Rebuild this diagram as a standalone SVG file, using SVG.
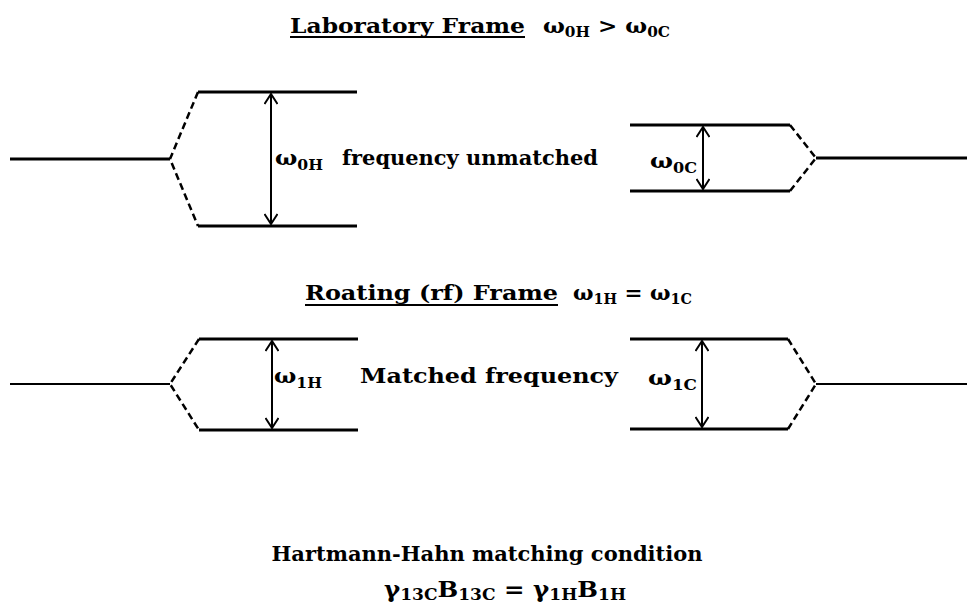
<svg xmlns="http://www.w3.org/2000/svg" width="967" height="614" viewBox="0 0 967 614">
<defs>
<style>
.t{font-family:"DejaVu Serif","Liberation Serif",serif;font-weight:bold;fill:#000;font-size:21px}
.s{font-size:14px}
.b{font-size:23px}
.bs{font-size:16px}
.lv{stroke:#000;stroke-width:3;fill:none}
.ln{stroke:#000;stroke-width:3;fill:none}
.ln2{stroke:#000;stroke-width:2;fill:none}
.ds{stroke:#000;stroke-width:2.5;fill:none;stroke-dasharray:7 4}
.ar{stroke:#000;stroke-width:2;fill:none;marker-start:url(#ah);marker-end:url(#ah)}
</style>
<marker id="ah" viewBox="0 0 12 14" refX="11" refY="7" markerWidth="12" markerHeight="14" markerUnits="userSpaceOnUse" orient="auto-start-reverse">
<path d="M1,0.5 L11,7 L1,13.5" fill="none" stroke="#000" stroke-width="2"/>
</marker>
</defs>
<rect width="967" height="614" fill="#fff"/>

<g id="title-lab">
<text class="t" x="290" y="33" textLength="235" lengthAdjust="spacingAndGlyphs">Laboratory Frame</text>
<line x1="290" y1="37" x2="525" y2="37" stroke="#000" stroke-width="2"/>
<text class="t" x="543" y="33" textLength="127" lengthAdjust="spacingAndGlyphs">ω<tspan class="s" dy="4">0H</tspan><tspan dy="-4"> &gt; </tspan>ω<tspan class="s" dy="4">0C</tspan></text>
</g>

<g id="title-rot">
<text class="t" x="305" y="300" textLength="253" lengthAdjust="spacingAndGlyphs">Roating (rf) Frame</text>
<line x1="305" y1="305" x2="558" y2="305" stroke="#000" stroke-width="2"/>
<text class="t" x="573" y="300" textLength="119" lengthAdjust="spacingAndGlyphs">ω<tspan class="s" dy="4">1H</tspan><tspan dy="-4"> = </tspan>ω<tspan class="s" dy="4">1C</tspan></text>
</g>

<g id="connectors">
<line class="ln" x1="10" y1="159" x2="170" y2="159"/>
<path class="ds" d="M198,92 L170,159 L198,226"/>
<path class="ds" d="M790,125 L816,158 L790,191"/>
<line class="ln" x1="816" y1="158" x2="967" y2="158"/>
<line class="ln2" x1="10" y1="384" x2="170" y2="384"/>
<path class="ds" d="M199,339 L170,384 L199,430"/>
<path class="ds" d="M788,339 L816,384 L788,429"/>
<line class="ln2" x1="816" y1="384" x2="967" y2="384"/>
</g>

<g id="lab-H">
<line class="lv" x1="198" y1="92" x2="357" y2="92"/>
<line class="lv" x1="198" y1="226" x2="357" y2="226"/>
<line class="ar" x1="271" y1="94" x2="271" y2="224"/>
<text class="t" x="275" y="165" textLength="48" lengthAdjust="spacingAndGlyphs">ω<tspan class="s" dy="5">0H</tspan></text>
</g>

<g id="lab-text">
<text class="t" x="342" y="165" textLength="256" lengthAdjust="spacingAndGlyphs">frequency unmatched</text>
</g>

<g id="lab-C">
<line class="lv" x1="630" y1="125" x2="790" y2="125"/>
<line class="lv" x1="630" y1="191" x2="790" y2="191"/>
<line class="ar" x1="703" y1="127" x2="703" y2="189"/>
<text class="t" x="650" y="168" textLength="47" lengthAdjust="spacingAndGlyphs">ω<tspan class="s" dy="5">0C</tspan></text>
</g>

<g id="rot-H">
<line class="lv" x1="199" y1="339" x2="358" y2="339"/>
<line class="lv" x1="199" y1="430" x2="358" y2="430"/>
<line class="ar" x1="272" y1="341" x2="272" y2="428"/>
<text class="t" x="274" y="383" textLength="48" lengthAdjust="spacingAndGlyphs">ω<tspan class="s" dy="5">1H</tspan></text>
</g>

<g id="rot-text">
<text class="t" x="360" y="383" textLength="258" lengthAdjust="spacingAndGlyphs">Matched frequency</text>
</g>

<g id="rot-C">
<line class="lv" x1="630" y1="339" x2="788" y2="339"/>
<line class="lv" x1="630" y1="429" x2="788" y2="429"/>
<line class="ar" x1="702" y1="341" x2="702" y2="427"/>
<text class="t" x="648" y="385" textLength="49" lengthAdjust="spacingAndGlyphs">ω<tspan class="s" dy="5">1C</tspan></text>
</g>

<g id="condition">
<text class="t" x="487" y="561" text-anchor="middle">Hartmann-Hahn matching condition</text>
<text class="t b" x="384" y="597" textLength="242" lengthAdjust="spacingAndGlyphs">γ<tspan class="bs" dy="3">13C</tspan><tspan dy="-3">B</tspan><tspan class="bs" dy="3">13C</tspan><tspan dy="-3"> = γ</tspan><tspan class="bs" dy="3">1H</tspan><tspan dy="-3">B</tspan><tspan class="bs" dy="3">1H</tspan></text>
</g>
</svg>
